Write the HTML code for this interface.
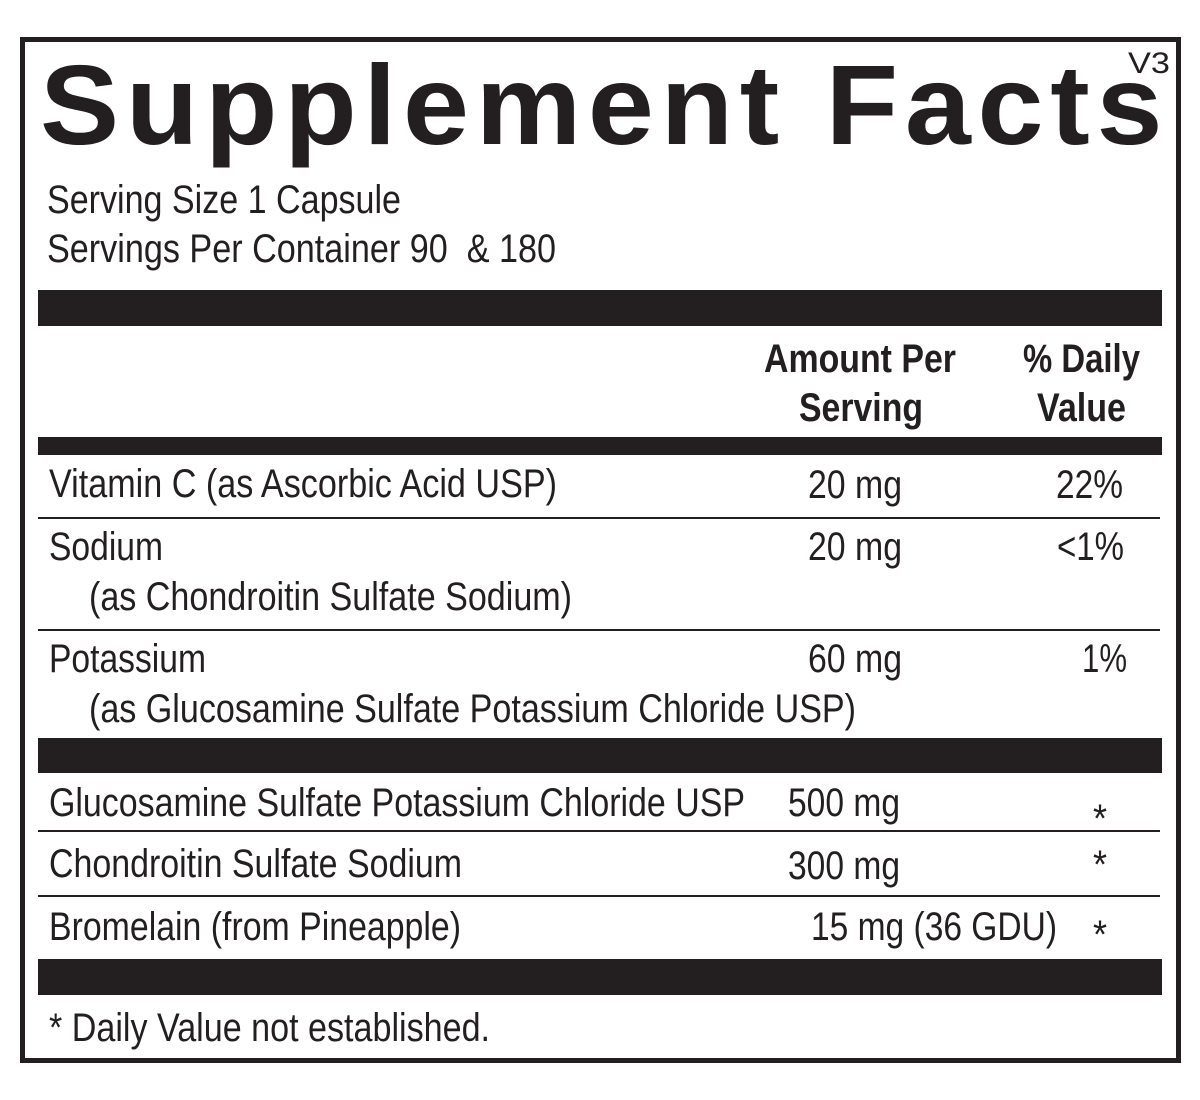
<!DOCTYPE html>
<html>
<head>
<meta charset="utf-8">
<style>
  html, body { margin: 0; padding: 0; background: #ffffff; }
  svg { display: block; }
  text { font-family: "Liberation Sans", Arial, Helvetica, sans-serif; fill: #231f20; }
  .r { font-size: 40px; font-weight: normal; }
  .b { font-size: 40px; font-weight: bold; }
</style>
</head>
<body>
<svg width="1200" height="1100" viewBox="0 0 1200 1100" xmlns="http://www.w3.org/2000/svg">
  <rect x="0" y="0" width="1200" height="1100" fill="#ffffff"/>
  <!-- outer border -->
  <rect x="22.5" y="39.5" width="1156" height="1021" fill="none" stroke="#231f20" stroke-width="5"/>

  <!-- title -->
  <g transform="translate(40,0) scale(1.05,1)">
    <text x="0" y="144" style="font-size:113px;font-weight:bold" textLength="1069" lengthAdjust="spacing">Supplement Facts</text>
  </g>
  <text x="1128" y="73" style="font-size:30px" textLength="42" lengthAdjust="spacingAndGlyphs">V3</text>

  <text class="r" x="47" y="213" textLength="354" lengthAdjust="spacingAndGlyphs">Serving Size 1 Capsule</text>
  <text class="r" x="47" y="262" textLength="509" lengthAdjust="spacingAndGlyphs">Servings Per Container 90&#160; &amp; 180</text>

  <!-- bars -->
  <rect x="38" y="290" width="1124" height="36" fill="#231f20"/>
  <rect x="38" y="437" width="1124" height="18" fill="#231f20"/>
  <rect x="38" y="738" width="1124" height="35" fill="#231f20"/>
  <rect x="38" y="959" width="1124" height="36" fill="#231f20"/>

  <!-- thin lines -->
  <rect x="38" y="517" width="1122" height="2" fill="#231f20"/>
  <rect x="38" y="629" width="1122" height="2" fill="#231f20"/>
  <rect x="38" y="830" width="1122" height="2" fill="#231f20"/>
  <rect x="38" y="895" width="1122" height="2" fill="#231f20"/>

  <!-- header -->
  <text class="b" x="764" y="372" textLength="192" lengthAdjust="spacingAndGlyphs">Amount Per</text>
  <text class="b" x="799" y="421" textLength="124" lengthAdjust="spacingAndGlyphs">Serving</text>
  <text class="b" x="1023" y="372" textLength="117" lengthAdjust="spacingAndGlyphs">% Daily</text>
  <text class="b" x="1037" y="421" textLength="89" lengthAdjust="spacingAndGlyphs">Value</text>

  <!-- Vitamin C -->
  <text class="r" x="49" y="497" textLength="508" lengthAdjust="spacingAndGlyphs">Vitamin C (as Ascorbic Acid USP)</text>
  <text class="r" x="808" y="498" textLength="94" lengthAdjust="spacingAndGlyphs">20 mg</text>
  <text class="r" x="1056" y="498" textLength="67" lengthAdjust="spacingAndGlyphs">22%</text>

  <!-- Sodium -->
  <text class="r" x="49" y="560" textLength="114" lengthAdjust="spacingAndGlyphs">Sodium</text>
  <text class="r" x="89" y="610" textLength="483" lengthAdjust="spacingAndGlyphs">(as Chondroitin Sulfate Sodium)</text>
  <text class="r" x="808" y="560" textLength="94" lengthAdjust="spacingAndGlyphs">20 mg</text>
  <text class="r" x="1057" y="560" textLength="67" lengthAdjust="spacingAndGlyphs">&lt;1%</text>

  <!-- Potassium -->
  <text class="r" x="49" y="672" textLength="157" lengthAdjust="spacingAndGlyphs">Potassium</text>
  <text class="r" x="89" y="722" textLength="767" lengthAdjust="spacingAndGlyphs">(as Glucosamine Sulfate Potassium Chloride USP)</text>
  <text class="r" x="808" y="672" textLength="94" lengthAdjust="spacingAndGlyphs">60 mg</text>
  <text class="r" x="1082" y="672" textLength="45" lengthAdjust="spacingAndGlyphs">1%</text>

  <!-- Other ingredients -->
  <text class="r" x="49" y="816" textLength="696" lengthAdjust="spacingAndGlyphs">Glucosamine Sulfate Potassium Chloride USP</text>
  <text class="r" x="788" y="816" textLength="112" lengthAdjust="spacingAndGlyphs">500 mg</text>
  <text class="r" x="1093" y="832" textLength="14" lengthAdjust="spacingAndGlyphs">*</text>

  <text class="r" x="49" y="877" textLength="413" lengthAdjust="spacingAndGlyphs">Chondroitin Sulfate Sodium</text>
  <text class="r" x="788" y="879" textLength="112" lengthAdjust="spacingAndGlyphs">300 mg</text>
  <text class="r" x="1093" y="878" textLength="14" lengthAdjust="spacingAndGlyphs">*</text>

  <text class="r" x="49" y="940" textLength="412" lengthAdjust="spacingAndGlyphs">Bromelain (from Pineapple)</text>
  <text class="r" x="811" y="940" textLength="246" lengthAdjust="spacingAndGlyphs">15 mg (36 GDU)</text>
  <text class="r" x="1093" y="948" textLength="14" lengthAdjust="spacingAndGlyphs">*</text>

  <!-- footnote -->
  <text class="r" x="49" y="1041" textLength="441" lengthAdjust="spacingAndGlyphs">* Daily Value not established.</text>
</svg>
</body>
</html>
